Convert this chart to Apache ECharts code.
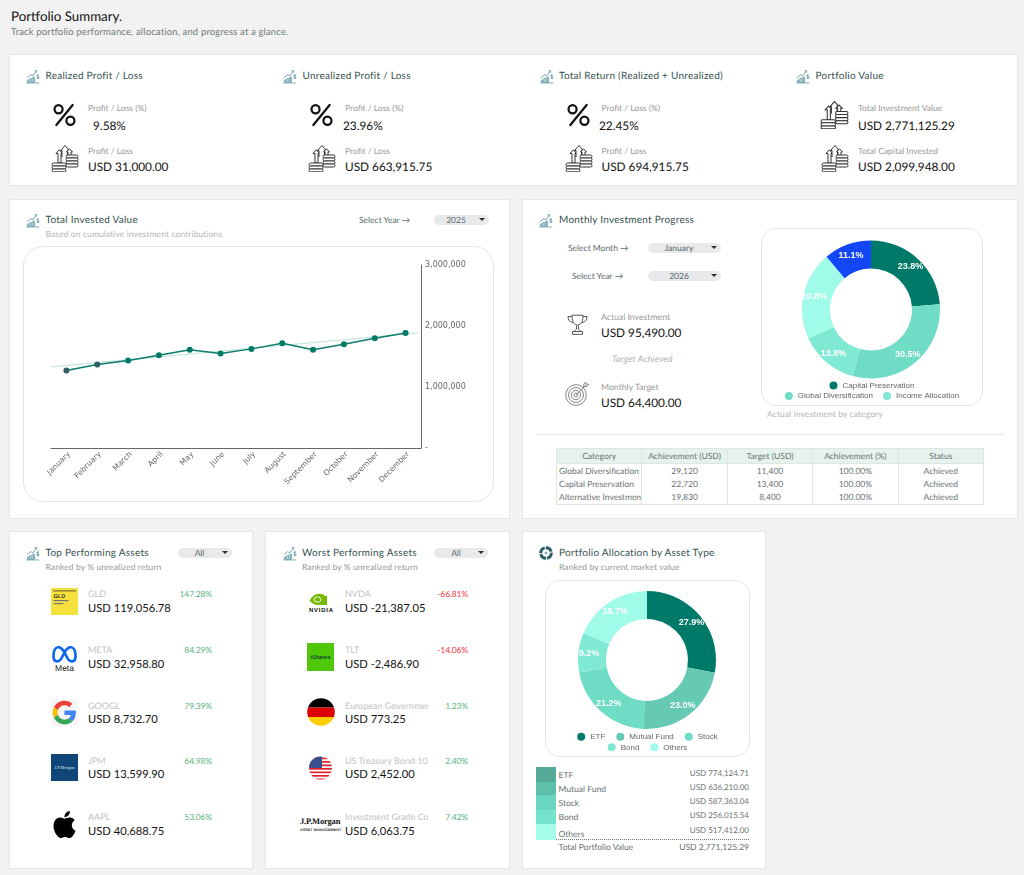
<!DOCTYPE html>
<html>
<head>
<meta charset="utf-8">
<title>Portfolio Summary</title>
<script src="https://cdn.jsdelivr.net/npm/echarts@6/dist/echarts.min.js"></script>
<style>
html,body{margin:0;padding:0;background:#f2f2f2;}
#page{position:relative;width:1024px;height:875px;overflow:hidden;font-family:Lato,"Open Sans",sans-serif;color:#111;text-rendering:geometricPrecision;}
.card{position:absolute;background:#fff;border:1px solid #e6e6e6;box-sizing:border-box;}
.box{position:absolute;background:#fff;border:1px solid #e4e6e6;box-sizing:border-box;}
.t{position:absolute;white-space:nowrap;transform:translateY(-50%);line-height:1.2;}
.title{font-size:10px;color:#35504f;letter-spacing:.25px;}
.sub{font-size:8.5px;color:#b4b4b4;letter-spacing:.1px;}
.lab{font-size:8.5px;color:#999;}
.val{font-size:11.8px;color:#111;}
.sel{font-size:8.5px;color:#5c6b6b;}
.pill{position:absolute;background:#e7e9eb;border-radius:6px;height:10px;}
.tri{position:absolute;width:0;height:0;border-left:3px solid transparent;border-right:3px solid transparent;border-top:3.5px solid #333;}
.tick{font-size:9px;color:#c2c2c2;}
.pct{font-size:8.5px;letter-spacing:-.15px;}
.row{font-size:8.5px;color:#6a7272;}
.ico{position:absolute;overflow:visible;}
.chart{position:absolute;}
#tbl{position:absolute;left:556px;top:448px;width:428px;height:57px;border-collapse:collapse;table-layout:fixed;font-size:8.5px;color:#6a7272;}
#tbl th{background:#e6f2ec;font-weight:400;height:14px;padding:0;border:1px solid #dfe5e2;}
#tbl td{height:13px;padding:0;text-align:center;border-left:1px solid #dfe5e2;border-right:1px solid #dfe5e2;overflow:hidden;white-space:nowrap;}
#tbl td:first-child{text-align:left;padding-left:2px;}
#tbl tr:last-child td{border-bottom:1px solid #dfe5e2;}
</style>
</head>
<body>
<div id="page">
  <svg width="0" height="0" style="position:absolute">
    <symbol id="s-growth" viewBox="0 0 15 15">
      <g fill="none" stroke="#4f8f9a" stroke-width=".8">
        <path d="M.5 14.4h13.6M1 8.8 5 5.5l2.4 1.4L11 1.6M9.2 1.2h2.2v2.2"/>
        <path d="M1.500 13.800v-2.600h1.600v2.600zM4 13.800v-4h1.600v4zM6.500 13.800V8.700h1.600v5.100zM9 13.800V7.800"/>
        <path d="M13.800 6.300c-.5-.6-2.300-.8-2.300.4 0 1.300 2.500.7 2.500 2.100 0 1.200-2 1.100-2.700.4M12.700 5.200v5"/>
      </g>
    </symbol>
    <symbol id="s-pct" viewBox="0 0 24 24">
      <g fill="none" stroke="#111" stroke-width="2.300">
        <circle cx="5.800" cy="6" r="4.200"/><circle cx="18.200" cy="18" r="4.200"/>
        <path d="M20.500 1.500 3.500 22.500" stroke-linecap="round"/>
      </g>
    </symbol>
    <symbol id="s-coins" viewBox="0 0 28 28">
      <g fill="#fff" stroke="#333" stroke-width="1">
        <path d="M7 19V9.500H5l3.300-3.700 3.300 3.700H10V19z"/>
        <path d="M11 13V6.500H9.500L14 1.500l4 4.500h-1.500v6"/>
        <path d="M17 11V8h-1.500l3-3.200 3 3.200H20v3"/>
        <rect x="15" y="11" width="12" height="3" rx="1.500"/><rect x="15" y="14" width="12" height="3" rx="1.500"/>
        <rect x="15" y="17" width="12" height="3" rx="1.500"/><rect x="15" y="20" width="12" height="3" rx="1.500"/>
        <rect x="1" y="19" width="14" height="3" rx="1.500"/><rect x="1" y="22" width="14" height="3" rx="1.500"/>
        <rect x="1" y="25" width="14" height="2.800" rx="1.400"/>
      </g>
    </symbol>
    <symbol id="s-trophy" viewBox="0 0 21 21">
      <g fill="none" stroke="#555" stroke-width="1">
        <path d="M5 1.200h11c0 5-.8 9-5.500 10C5.800 10.200 5 6.200 5 1.200z"/>
        <path d="M5 2.500H1c0 3.500 1.500 5.500 5 6M16 2.500h4c0 3.500-1.500 5.500-5 6"/>
        <path d="M9.500 11.500v3.500L7 17.500h7L11.500 15v-3.500M5.500 17.500h10v2.800h-10z"/>
      </g>
    </symbol>
    <symbol id="s-target" viewBox="0 0 25 24">
      <g fill="none" stroke="#777" stroke-width=".9">
        <circle cx="11" cy="13" r="10.300"/><circle cx="11" cy="13" r="7.500"/>
        <circle cx="11" cy="13" r="4.700"/><circle cx="11" cy="13" r="2"/>
        <path d="M11 13 21 3M19 1.500l-.4 3 3 .1 2.300-2.300-2.800-.1-.1-1.800z"/>
      </g>
    </symbol>
    <symbol id="s-alloc" viewBox="0 0 14 14">
      <circle cx="7" cy="7" r="5.300" fill="none" stroke="#2c5f63" stroke-width="3" stroke-dasharray="7 1"/>
      <circle cx="7" cy="7" r="1.500" fill="#8fb0b0"/>
    </symbol>
  </svg>

  <div class="card" style="left:9px;top:54px;width:1009px;height:132px"></div>
  <div class="card" style="left:9px;top:199px;width:501px;height:320px"></div>
  <div class="card" style="left:522px;top:199px;width:496px;height:320px"></div>
  <div class="card" style="left:9px;top:531px;width:244px;height:338px"></div>
  <div class="card" style="left:265px;top:531px;width:245px;height:338px"></div>
  <div class="card" style="left:522px;top:531px;width:244px;height:338px"></div>

  <div class="box" style="left:23px;top:246px;width:471px;height:256px;border-radius:20px"></div>
  <div class="box" style="left:761px;top:228px;width:222px;height:178px;border-radius:15px"></div>
  <div class="box" style="left:545px;top:580px;width:205px;height:177px;border-radius:15px"></div>
  <div style="position:absolute;left:536px;top:434px;width:468px;height:1px;background:#e8e8e8"></div>
  <div style="position:absolute;left:556px;top:839px;width:193px;border-top:1px dotted #777"></div>

  <div class="chart" id="line_chart" style="left:23px;top:246px;width:471px;height:256px"></div>
  <div class="chart" id="month_pie" style="left:761px;top:228px;width:222px;height:178px"></div>
  <div class="chart" id="alloc_pie" style="left:545px;top:580px;width:205px;height:177px"></div>
  <table id="tbl"></table>
</div>

<script>
// top level values
var months = ['January','February','March','April','May','June','July','August','September','October','November','December'];
var investedValue = [1271000,1369000,1435000,1522000,1609000,1549000,1625000,1718000,1609000,1702000,1800000,1887000];
var trendX = [-0.5,11.4];
var trendY = [1331000,1887000];

var categoryNames = ['Capital Preservation','Global Diversification','Income Allocation','Alternative Investment','Other'];
var categoryActual = [22720,29120,13180,19830,10640];
var categoryColors = ['#007a68','#6fdcc5','#80e9d3','#a0fbe8','#1346f5'];

var tableHeader = ['Category','Achievement (USD)','Target (USD)','Achievement (%)','Status'];
var tableCategory = ['Global Diversification','Capital Preservation','Alternative Investment'];
var tableAchieved = ['29,120','22,720','19,830'];
var tableTarget = ['11,400','13,400','8,400'];
var tablePct = ['100.00%','100.00%','100.00%'];
var tableStatus = ['Achieved','Achieved','Achieved'];

var assetTypes = ['ETF','Mutual Fund','Stock','Bond','Others'];
var assetValues = [774124.71,636210.00,587363.04,256015.54,517412.00];
var assetColors = ['#007a68','#66c9b4','#6fdcc5','#7fe9d3','#a0fbe8'];
var assetLabels = ['USD 774,124.71','USD 636,210.00','USD 587,363.04','USD 256,015.54','USD 517,412.00'];

var summaryTitles = ['Realized Profit / Loss','Unrealized Profit / Loss','Total Return (Realized + Unrealized)','Portfolio Value'];
var summaryTopLabel = ['Profit / Loss (%)','Profit / Loss (%)','Profit / Loss (%)','Total Investment Value'];
var summaryTopValue = ['9.58%','23.96%','22.45%','USD 2,771,125.29'];
var summaryBottomLabel = ['Profit / Loss','Profit / Loss','Profit / Loss','Total Capital Invested'];
var summaryBottomValue = ['USD 31,000.00','USD 663,915.75','USD 694,915.75','USD 2,099,948.00'];

var topTicker = ['GLD','META','GOOGL','JPM','AAPL'];
var topValue = ['USD 119,056.78','USD 32,958.80','USD 8,732.70','USD 13,599.90','USD 40,688.75'];
var topPct = ['147.28%','84.29%','79.39%','64.98%','53.06%'];
var worstTicker = ['NVDA','TLT','European Government Bond','US Treasury Bond 10Y','Investment Grade Corporate'];
var worstValue = ['USD -21,387.05','USD -2,486.90','USD 773.25','USD 2,452.00','USD 6,063.75'];
var worstPct = ['-66.81%','-14.06%','1.23%','2.40%','7.42%'];

var page = document.getElementById('page');

function txt(x, y, text, cls, extra) {
	var d = document.createElement('div');
	d.className = 't ' + cls;
	d.style.left = x + 'px';
	d.style.top = y + 'px';
	if (extra) d.style.cssText += extra;
	d.textContent = text;
	page.appendChild(d);
	return d;
}
function rtxt(right, y, text, cls, extra) {
	return txt(0, y, text, cls, 'left:auto;right:' + (1024 - right) + 'px;' + (extra || ''));
}
function ico(name, x, y, w, h) {
	page.insertAdjacentHTML('beforeend', '<svg class="ico" style="left:' + x + 'px;top:' + y + 'px" width="' + w + '" height="' + h + '"><use href="#' + name + '"/></svg>');
}
function logo(x, y, w, h, inner, vb) {
	page.insertAdjacentHTML('beforeend', '<svg class="ico" style="left:' + x + 'px;top:' + y + 'px" width="' + w + '" height="' + h + '" viewBox="' + (vb || ('0 0 ' + w + ' ' + h)) + '">' + inner + '</svg>');
}
function pill(x, y, w, text, cx) {
	var p = document.createElement('div');
	p.className = 'pill';
	p.style.cssText = 'left:' + x + 'px;top:' + y + 'px;width:' + w + 'px';
	page.appendChild(p);
	txt(cx, y + 5, text, 'sel', 'transform:translate(-50%,-50%)');
	var tr = document.createElement('div');
	tr.className = 'tri';
	tr.style.cssText = 'left:' + (x + w - 10) + 'px;top:' + (y + 3.5) + 'px';
	page.appendChild(tr);
}

// header
txt(11, 16.5, 'Portfolio Summary.', '', 'font-size:13.3px;color:#111');
txt(11, 33, 'Track portfolio performance, allocation, and progress at a glance.', '', 'font-size:9.5px;color:#6d7b7b;letter-spacing:.15px');

// summary row
var colX = [0, 257, 513.5, 770];
for (var i = 0; i < 4; i++) {
	var ox = colX[i];
	ico('s-growth', 26 + ox, 69, 14, 15);
	txt(45.5 + ox, 75.5, summaryTitles[i], 'title');
	if (i < 3) ico('s-pct', 53 + ox, 103, 23, 24);
	else ico('s-coins', 51 + ox - 1, 100, 29, 29);
	ico('s-coins', 51 + ox, 144, 28, 28);
	var lx = i == 3 ? 858 : 88 + ox;
	var vx = [93, 343, 599, 858][i];
	txt(lx, 108, summaryTopLabel[i], 'lab');
	txt(vx, 125.5, summaryTopValue[i], 'val');
	txt(lx, 151, summaryBottomLabel[i], 'lab');
	txt(lx, 167, summaryBottomValue[i], 'val');
}

// total invested value card
ico('s-growth', 26, 213, 14, 15);
txt(45.5, 220, 'Total Invested Value', 'title');
txt(45.5, 234, 'Based on cumulative investment contributions', 'sub');
txt(359, 220, 'Select Year \u2192', 'sel');
pill(434, 214.5, 55, '2025', 456);

// monthly progress card
ico('s-growth', 539, 213, 14, 15);
txt(559, 220, 'Monthly Investment Progress', 'title');
txt(568, 247.5, 'Select Month \u2192', 'sel');
pill(648, 242.5, 73, 'January', 679);
txt(572, 275.5, 'Select Year \u2192', 'sel');
pill(648, 270.5, 73, '2026', 679);
ico('s-trophy', 567, 314, 21, 21);
txt(601, 317, 'Actual Investment', 'lab', 'font-size:8.7px');
txt(601, 333, 'USD 95,490.00', 'val');
txt(612, 358.5, 'Target Achieved', 'sub', 'font-style:italic;font-size:9px');
ico('s-target', 565, 382, 25, 24);
txt(601, 386.5, 'Monthly Target', 'lab', 'font-size:8.7px');
txt(601, 402.5, 'USD 64,400.00', 'val');
txt(767, 414, 'Actual investment by category', 'sub');

var tbl = '<tr>' + tableHeader.map(function(h){ return '<th>' + h + '</th>'; }).join('') + '</tr>';
for (var r = 0; r < tableCategory.length; r++) {
	tbl += '<tr><td>' + tableCategory[r] + '</td><td>' + tableAchieved[r] + '</td><td>' + tableTarget[r] + '</td><td>' + tablePct[r] + '</td><td>' + tableStatus[r] + '</td></tr>';
}
document.getElementById('tbl').innerHTML = tbl;

// ranked lists
var tickY = [594.3, 650, 705.7, 761, 816.5];
var valY = [609, 664.5, 720, 775.3, 832];
ico('s-growth', 26, 546, 14, 15);
txt(45.5, 553, 'Top Performing Assets', 'title');
txt(45.5, 567, 'Ranked by % unrealized return', 'sub', 'color:#8f9a9a');
pill(178, 547.5, 54, 'All', 199.5);
ico('s-growth', 283, 546, 14, 15);
txt(302, 553, 'Worst Performing Assets', 'title');
txt(302, 567, 'Ranked by % unrealized return', 'sub', 'color:#8f9a9a');
pill(434, 547.5, 54, 'All', 456);
for (var k = 0; k < 5; k++) {
	txt(88, tickY[k], topTicker[k], 'tick');
	txt(88, valY[k], topValue[k], 'val', 'font-size:11.2px');
	rtxt(212, tickY[k], topPct[k], 'pct', 'color:#5bb384');
	var wt = txt(345, tickY[k], worstTicker[k], 'tick');
	wt.style.width = '83px';
	wt.style.overflow = 'hidden';
	txt(345, valY[k], worstValue[k], 'val', 'font-size:11.2px');
	rtxt(468, tickY[k], worstPct[k], 'pct', 'color:' + (worstPct[k].charAt(0) == '-' ? '#f0353f' : '#5bb384'));
}

// logos
logo(51, 588, 27, 27, '<rect width="27" height="27" fill="#f6e23c"/><rect x="2" y="2.500" width="23" height=".8" fill="#333"/><text x="2.500" y="10" font-size="5.500" font-weight="700" fill="#333" font-family="Liberation Sans">GLD</text><rect x="2.500" y="12" width="15" height="1.200" fill="#777"/><rect x="2.500" y="15" width="10" height="1.200" fill="#777"/>');
logo(51, 644, 27, 27, '<path d="M2.500 12.500C2.500 1.500 9 .5 13.500 8.500 18 .5 24.500 1.500 24.500 12.500c0 6-5 6-7.500 2.500l-3.500-6.500L10 15c-2.500 3.500-7.500 3.500-7.500-2.500z" fill="none" stroke="#0a66f0" stroke-width="2.600"/><text x="13.500" y="26.500" text-anchor="middle" font-size="8.500" font-family="Liberation Sans" fill="#222">Meta</text>');
logo(51, 699, 27, 27, '<rect width="48" height="48" fill="#f5f5f5"/><g transform="translate(3 3) scale(.875)"><path d="M24 9.500c3.540 0 6.710 1.220 9.210 3.600l6.850-6.850C35.900 2.380 30.470 0 24 0 14.620 0 6.510 5.380 2.560 13.220l7.980 6.190C12.430 13.720 17.740 9.500 24 9.500z" fill="#EA4335"/><path d="M46.980 24.550c0-1.570-.15-3.090-.38-4.550H24v9.020h12.940c-.58 2.960-2.260 5.480-4.780 7.180l7.730 6c4.510-4.180 7.090-10.360 7.090-17.650z" fill="#4285F4"/><path d="M10.530 28.590c-.48-1.450-.76-2.990-.76-4.590s.27-3.140.76-4.590l-7.980-6.190C.92 16.460 0 20.120 0 24c0 3.880.92 7.540 2.560 10.780l7.970-6.190z" fill="#FBBC05"/><path d="M24 48c6.480 0 11.930-2.130 15.890-5.810l-7.730-6c-2.150 1.450-4.920 2.300-8.160 2.300-6.260 0-11.570-4.220-13.470-9.910l-7.980 6.190C6.510 42.620 14.620 48 24 48z" fill="#34A853"/></g>', '0 0 48 48');
logo(51, 754, 27, 27, '<rect width="27" height="27" fill="#0f4577"/><text x="13.500" y="15" text-anchor="middle" font-size="4.500" font-family="Liberation Serif" fill="#dfe7ef">J.P.Morgan</text>');
logo(51, 809, 27, 31, '<path d="M12.152 6.896c-.948 0-2.415-1.078-3.960-1.040-2.040.027-3.910 1.183-4.961 3.014-2.117 3.675-.546 9.103 1.519 12.090 1.013 1.454 2.208 3.090 3.792 3.039 1.520-.065 2.090-.987 3.935-.987 1.831 0 2.350.987 3.960.948 1.637-.026 2.676-1.480 3.676-2.948 1.156-1.688 1.636-3.325 1.662-3.415-.039-.013-3.182-1.221-3.220-4.857-.026-3.040 2.480-4.494 2.597-4.559-1.429-2.090-3.623-2.324-4.390-2.376-2-.156-3.675 1.090-4.610 1.090zM15.530 3.830c.843-1.012 1.400-2.427 1.245-3.830-1.207.052-2.662.805-3.532 1.818-.78.896-1.454 2.338-1.273 3.714 1.338.104 2.715-.688 3.559-1.701" fill="#000"/>', '0 0 24 24');
logo(307, 592, 28, 20, '<path d="M5 5c4-4 10-4 13-1h2v9h-9c-3 0-5-1-7-3L2.500 8.500z" fill="#76b900"/><ellipse cx="10.500" cy="7.500" rx="3.500" ry="2.600" fill="none" stroke="#fff" stroke-width=".9"/><text x="14" y="19.500" text-anchor="middle" font-size="6" font-weight="700" font-family="Liberation Sans" fill="#111" textLength="24">NVIDIA</text>');
logo(307, 643, 27, 28, '<rect width="27" height="28" fill="#4fc80a"/><text x="13.500" y="16" text-anchor="middle" font-size="5.500" font-weight="700" font-family="Liberation Sans" fill="#143">iShares</text>');
logo(307, 698, 28, 28, '<defs><clipPath id="cp-de"><circle cx="14" cy="14" r="13.800"/></clipPath></defs><g clip-path="url(#cp-de)"><rect width="28" height="9.500" fill="#000"/><rect y="9.500" width="28" height="9.500" fill="#dd0000"/><rect y="19" width="28" height="9" fill="#ffce00"/></g>');
logo(309, 756, 23, 24, '<defs><clipPath id="cp-us"><circle cx="11.500" cy="12" r="11.500"/></clipPath></defs><g clip-path="url(#cp-us)"><rect width="23" height="24" fill="#fff"/><rect y="1.500" width="23" height="1.700" fill="#e0222f"/><rect y="5" width="23" height="1.700" fill="#e0222f"/><rect y="8.500" width="23" height="1.700" fill="#e0222f"/><rect y="12" width="23" height="1.700" fill="#e0222f"/><rect y="15.500" width="23" height="1.700" fill="#e0222f"/><rect y="19" width="23" height="1.700" fill="#e0222f"/><rect y="22.500" width="23" height="1.500" fill="#e0222f"/><rect width="13" height="12" fill="#3a4f8c"/></g>');
txt(300, 821, 'J.P.Morgan', '', 'font:700 8.500px "Liberation Serif";color:#111;letter-spacing:-.2px');
txt(300, 830, 'ASSET MANAGEMENT', '', 'font:700 3.800px "Liberation Sans";color:#333');

// allocation card
ico('s-alloc', 539, 546, 14, 14);
txt(559, 553, 'Portfolio Allocation by Asset Type', 'title');
txt(559, 567, 'Ranked by current market value', 'sub', 'color:#8f9a9a');
var swatchColors = ['#55ab98','#5ec0ab','#6ad6bf','#74e4cd','#a5fde9'];
var swatchY = [767, 781.5, 795, 809.5, 823.5, 840];
var labelY = [774.7, 788.7, 802.7, 816.7, 834];
var amountY = [774.3, 788.3, 802.3, 816, 831];
for (var a = 0; a < 5; a++) {
	var sw = document.createElement('div');
	sw.style.cssText = 'position:absolute;left:536px;width:20px;top:' + swatchY[a] + 'px;height:' + (swatchY[a + 1] - swatchY[a]) + 'px;background:' + swatchColors[a];
	page.appendChild(sw);
	txt(558.5, labelY[a], assetTypes[a], 'row');
	rtxt(749, amountY[a], assetLabels[a], 'row', 'font-size:8px');
}
txt(558.5, 847, 'Total Portfolio Value', 'row');
rtxt(749, 847, 'USD 2,771,125.29', 'row');

// line chart
var lineChart = echarts.init(document.getElementById('line_chart'));
lineChart.setOption({
	animation: false,
	grid: { left: 28, top: 19, width: 370, height: 183 },
	xAxis: [
		{
			type: 'category',
			data: months,
			boundaryGap: true,
			axisLine: { lineStyle: { color: '#666', width: 1 } },
			axisTick: { show: false },
			axisLabel: { rotate: 45, interval: 0, fontSize: 7.7, margin: 8, padding: [0, -4, 0, 0], color: '#666', fontFamily: 'DejaVu Sans' }
		},
		{ type: 'value', min: -0.5, max: 11.5, show: false }
	],
	yAxis: {
		type: 'value',
		position: 'right',
		min: 0,
		max: 3000000,
		interval: 1000000,
		splitLine: { show: false },
		axisTick: { show: false },
		axisLine: { show: true, onZero: false, lineStyle: { color: '#666', width: 1 } },
		axisLabel: {
			fontSize: 8, margin: 4, color: '#666', fontFamily: 'DejaVu Sans',
			formatter: function(v){ return v === 0 ? '-' : echarts.format.addCommas(v); }
		}
	},
	series: [
		{
			name: 'Trend',
			type: 'line',
			xAxisIndex: 1,
			data: trendX.map(function(x, i){ return [x, trendY[i]]; }),
			symbol: 'none',
			lineStyle: { color: '#c8e6dc', width: 1.2 },
			silent: true
		},
		{
			name: 'Total Invested Value',
			type: 'line',
			data: investedValue.map(function(v, i){
				return { value: v, itemStyle: { color: i < 2 ? '#2f5f63' : '#007a68' } };
			}),
			symbol: 'circle',
			symbolSize: 6,
			lineStyle: { color: '#0a7d6a', width: 1.5 },
			itemStyle: { color: '#007a68' }
		}
	]
});

// donut charts
function donut(id, names, values, colors, rows, center) {
	var chart = echarts.init(document.getElementById(id));
	chart.setOption({
		animation: false,
		legend: rows.map(function(r){
			return {
				data: r.names,
				top: r.top,
				left: 'center',
				padding: 0,
				icon: 'circle',
				itemWidth: 8,
				itemHeight: 8,
				itemGap: r.gap,
				selectedMode: false,
				textStyle: { fontSize: 8, color: '#666', fontFamily: 'Liberation Sans' }
			};
		}),
		series: [{
			type: 'pie',
			radius: [41, 69],
			center: center,
			startAngle: 90,
			silent: true,
			label: {
				position: 'inside',
				formatter: function(p){ return p.percent.toFixed(1) + '%'; },
				color: '#fff',
				fontSize: 9,
				fontWeight: 'bold',
				fontFamily: 'Liberation Sans'
			},
			labelLine: { show: false },
			data: names.map(function(n, i){
				return { name: n, value: values[i], itemStyle: { color: colors[i] } };
			})
		}]
	});
	return chart;
}
donut('month_pie', categoryNames, categoryActual, categoryColors, [
	{ names: ['Capital Preservation'], top: 153.5, gap: 8 },
	{ names: ['Global Diversification','Income Allocation'], top: 164, gap: 10 }
], [110, 81.5]);
donut('alloc_pie', assetTypes, assetValues, assetColors, [
	{ names: ['ETF','Mutual Fund','Stock'], top: 152.7, gap: 11 },
	{ names: ['Bond','Others'], top: 163.3, gap: 11 }
], [102, 80]);
</script>
</body>
</html>
